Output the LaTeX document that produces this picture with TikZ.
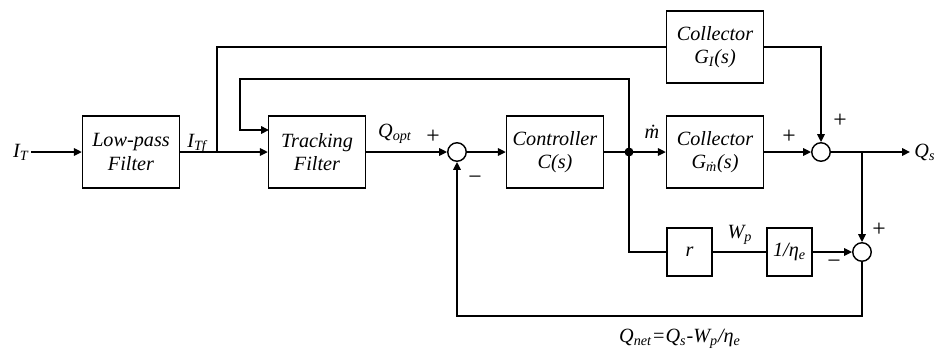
\documentclass[tikz,border=0pt]{standalone}
\usepackage{fontspec}
\setmainfont{Liberation Serif}
\usetikzlibrary{arrows.meta}

\begin{document}
\begin{tikzpicture}[x=0.02cm,y=-0.02cm,line width=0.8pt,
    block/.style={draw,minimum width=1.94cm,minimum height=1.44cm,align=center,inner sep=1pt,font=\fontsize{11.5}{13.5}\selectfont\itshape},
    gain/.style={draw,minimum width=0.9cm,minimum height=0.96cm,inner sep=1pt,font=\fontsize{11.5}{13.5}\selectfont\itshape},
    sum/.style={draw,circle,minimum size=0.37cm,inner sep=0pt},
    lab/.style={inner sep=1pt,font=\fontsize{11.5}{13.5}\selectfont\itshape},
    sgn/.style={inner sep=0pt,font=\fontsize{13.5}{13.5}\selectfont},
    arr/.style={-{Triangle[length=4.5pt,width=4.3pt]}}]
    \useasboundingbox (0,0) rectangle (937,349);
    \node[block] (lpf) at (131,152) {Low-pass\\Filter};
    \node[block] (trk) at (317,152) {Tracking\\Filter};
    \node[block] (ctrl) at (555,152) {Controller\\C(s)};
    \node[block] (gi) at (715,47) {Collector\\G\textsubscript{I}(s)};
    \node[block] (gm) at (715,152) {Collector\\G\textsubscript{\.{m}}(s)};
    \node[gain] (r) at (689.5,252) {r};
    \node[gain] (eta) at (789.5,252) {1/η\textsubscript{e}};
    \node[sum] (s1) at (457,152) {};
    \node[sum] (s2) at (821,152) {};
    \node[sum] (s3) at (862,252) {};
    \fill (629,152) circle(0.09cm) coordinate (dot);
    \coordinate (b1) at (217,152);
    \coordinate (b2) at (862,152);
    \coordinate (t1) at (240,79);
    \coordinate (tin) at (269,130);
    \coordinate (fb) at (457,316);
    \coordinate (out) at (910,152);
    \node[lab,anchor=base east] (IT) at (31,157) {I\textsubscript{T}};
    \node[lab,anchor=base] (ITf) at (197,147) {I\textsubscript{Tf}};
    \node[lab,anchor=base] (Qopt) at (395,137) {Q\textsubscript{opt}};
    \node[lab,anchor=base] (mdot) at (652,138) {\.{m}};
    \node[lab,anchor=base] (Wp) at (740,238) {W\textsubscript{p}};
    \node[lab,anchor=base west] (Qs) at (912,157) {Q\textsubscript{s}};
    \node[lab,anchor=base] (Qnet) at (680,342) {Q\textsubscript{net}=Q\textsubscript{s}-W\textsubscript{p}/η\textsubscript{e}};
    \node[sgn] at (433,137) {+};
    \node[sgn] at (475,180) {−};
    \node[sgn] at (789,137) {+};
    \node[sgn] at (840,121) {+};
    \node[sgn] at (879,230) {+};
    \node[sgn] at (834,264) {−};
    \draw[arr] (IT.east |- lpf.west) -- (lpf.west);
    \draw[arr] (lpf) -- (trk);
    \draw (b1) |- (gi);
    \draw[arr] (trk) -- (s1);
    \draw[arr] (s1) -- (ctrl);
    \draw (ctrl) -- (dot);
    \draw[arr] (dot) -- (gm);
    \draw[arr] (dot) |- (t1) |- (tin);
    \draw[arr] (gm) -- (s2);
    \draw[arr] (gi) -| (s2);
    \draw[arr] (s2) -- (out);
    \draw[arr] (b2) -- (s3);
    \draw (dot) |- (r);
    \draw (r) -- (eta);
    \draw[arr] (eta) -- (s3);
    \draw[arr] (s3) |- (fb) -- (s1);
\end{tikzpicture}
\end{document}
